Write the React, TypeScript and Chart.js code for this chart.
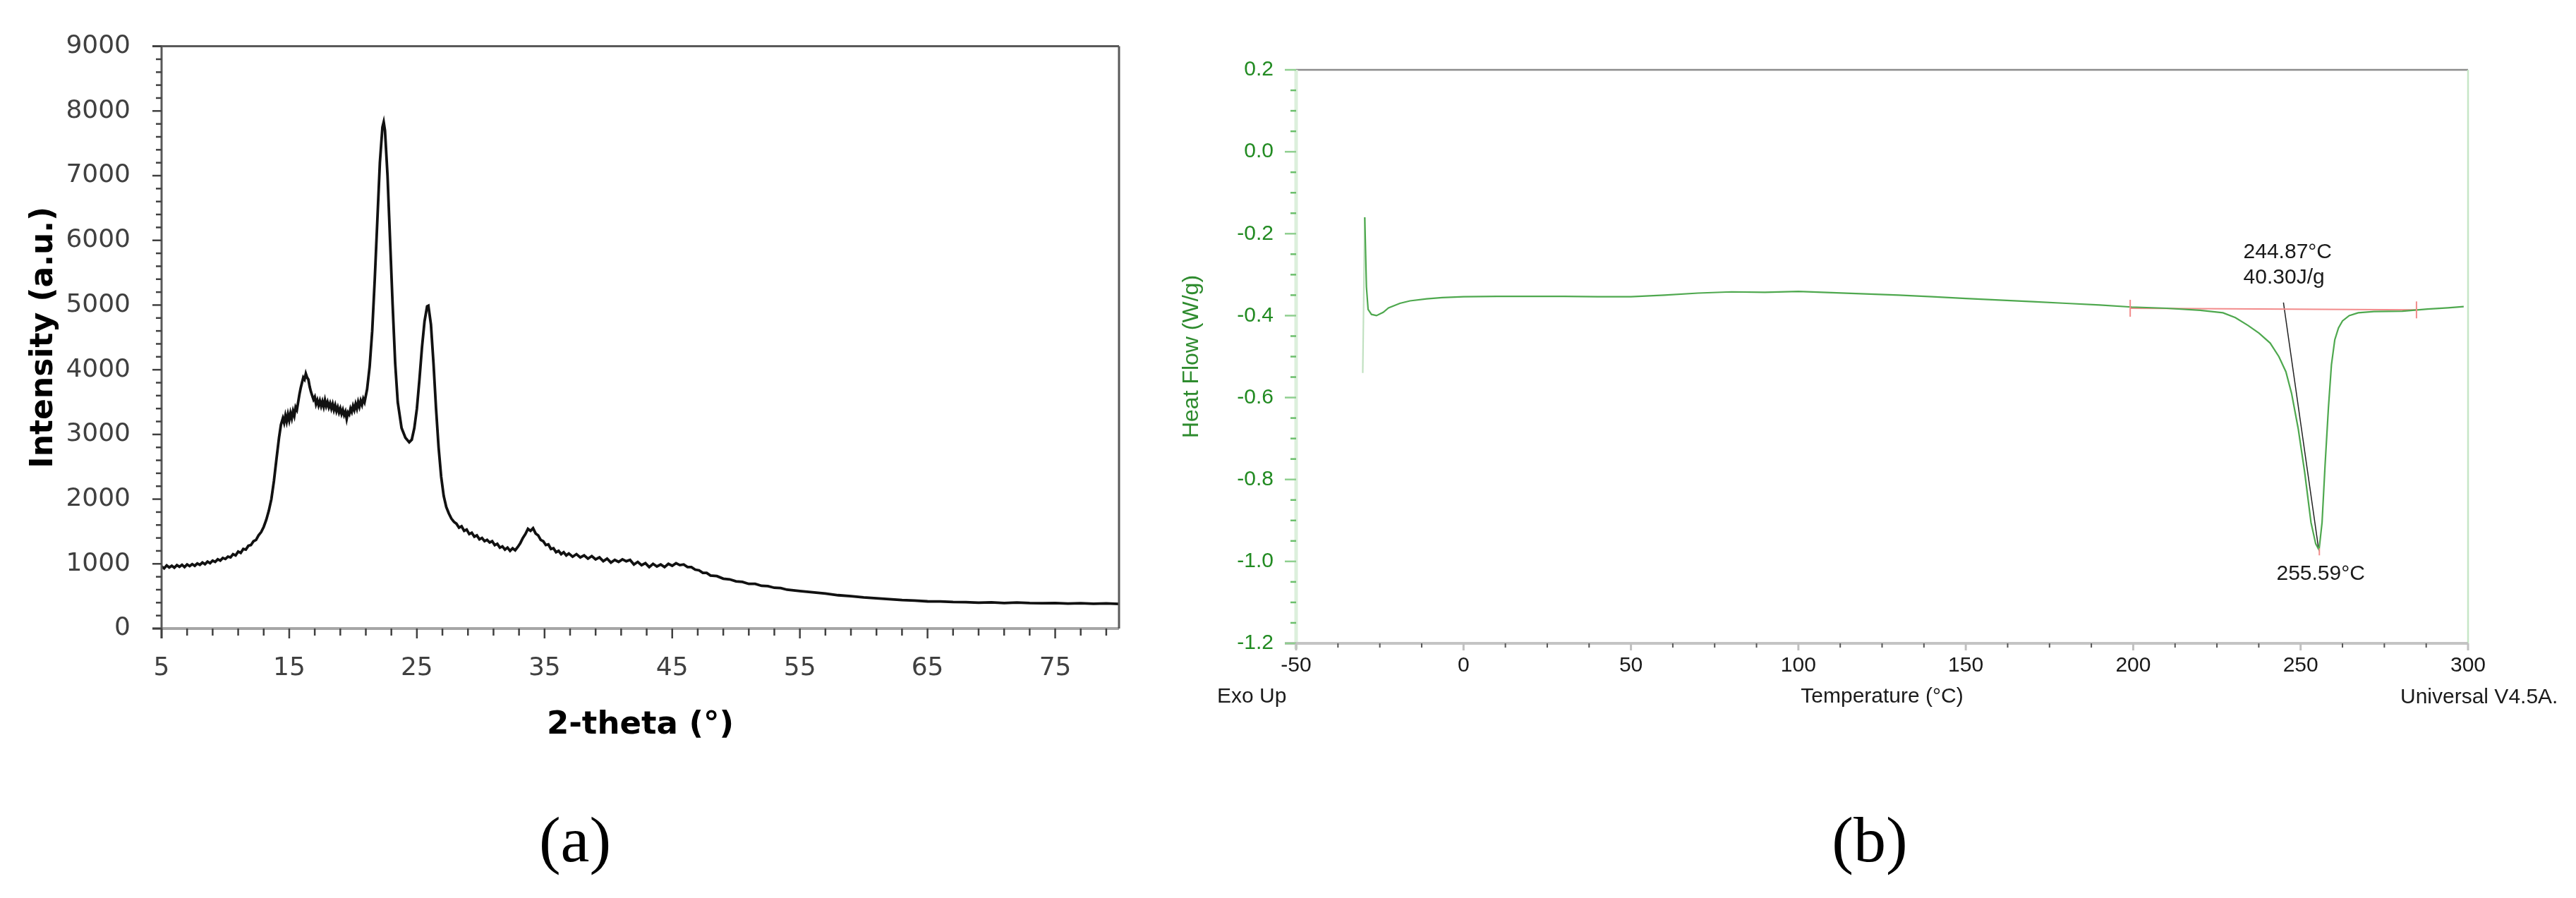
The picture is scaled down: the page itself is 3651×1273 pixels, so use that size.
import React, { useEffect, useRef } from "react";
import { Chart, registerables } from "chart.js";
Chart.register(...registerables);

const W = 3651;
const H = 1273;

// ---------- (a) XRD pattern ----------
const xrdTheta = [
  5.0, 5.2, 5.4, 5.6, 5.8, 6.0, 6.2, 6.4, 6.6, 6.8, 7.0, 7.2, 7.4, 7.6, 7.8, 8.0, 8.2, 8.4, 8.6, 8.8,
  9.0, 9.2, 9.4, 9.6, 9.8, 10.0, 10.2, 10.4, 10.6, 10.8, 11.0, 11.2, 11.4, 11.6, 11.8, 12.0, 12.2, 12.4, 12.6, 12.8,
  13.0, 13.2, 13.4, 13.6, 13.8, 14.0, 14.2, 14.35, 14.5, 14.6, 14.7, 14.8, 14.9, 15.0, 15.1, 15.2, 15.3, 15.4, 15.5, 15.6,
  15.7, 15.8, 15.9, 16.0, 16.1, 16.2, 16.3, 16.4, 16.5, 16.6, 16.7, 16.8, 16.9, 17.0, 17.1, 17.2, 17.3, 17.4, 17.5, 17.6,
  17.7, 17.8, 17.9, 18.0, 18.1, 18.2, 18.3, 18.4, 18.5, 18.6, 18.7, 18.8, 18.9, 19.0, 19.1, 19.2, 19.3, 19.4, 19.5, 19.6,
  19.7, 19.8, 19.9, 20.0, 20.1, 20.2, 20.3, 20.4, 20.5, 20.6, 20.7, 20.8, 20.9, 21.0, 21.1, 21.3, 21.5, 21.7, 21.9, 22.1,
  22.3, 22.4, 22.5, 22.7, 22.9, 23.1, 23.3, 23.5, 23.8, 24.1, 24.4, 24.6, 24.8, 25.0, 25.2, 25.4, 25.6, 25.8, 25.9, 26.1,
  26.3, 26.5, 26.7, 26.9, 27.1, 27.3, 27.5, 27.7, 27.9, 28.1, 28.3, 28.5, 28.7, 28.9, 29.1, 29.3, 29.5, 29.7, 29.9, 30.1,
  30.3, 30.5, 30.7, 30.9, 31.1, 31.3, 31.5, 31.7, 31.9, 32.1, 32.3, 32.5, 32.7, 32.9, 33.1, 33.3, 33.5, 33.7, 33.9, 34.1,
  34.3, 34.5, 34.7, 34.9, 35.1, 35.3, 35.5, 35.7, 35.9, 36.1, 36.3, 36.5, 36.7, 36.9, 37.2, 37.5, 37.8, 38.1, 38.4, 38.7,
  39.0, 39.3, 39.6, 39.9, 40.2, 40.5, 40.8, 41.1, 41.4, 41.7, 42.0, 42.3, 42.6, 42.9, 43.2, 43.5, 43.8, 44.1, 44.4, 44.7,
  45.0, 45.3, 45.6, 45.9, 46.2, 46.5, 46.8, 47.1, 47.4, 47.7, 48.0, 48.5, 49.0, 49.5, 50.0, 50.5, 51.0, 51.5, 52.0, 52.5,
  53.0, 53.5, 54.0, 55.0, 56.0, 57.0, 58.0, 59.0, 60.0, 61.0, 62.0, 63.0, 64.0, 65.0, 66.0, 67.0, 68.0, 69.0, 70.0, 71.0,
  72.0, 73.0, 74.0, 75.0, 76.0, 77.0, 78.0, 79.0, 80.0,
];
const xrdIntensity = [
  960, 930, 975, 945, 970, 940, 980, 955, 985, 950, 990, 965, 995, 970, 1005, 985, 1020, 995, 1035, 1010,
  1050, 1030, 1070, 1050, 1090, 1075, 1110, 1100, 1150, 1130, 1190, 1170, 1230, 1220, 1280, 1290, 1350, 1370, 1440, 1490,
  1570, 1680, 1820, 2000, 2280, 2620, 2950, 3150, 3250, 3180, 3290, 3200, 3310, 3220, 3330, 3250, 3360, 3290, 3420, 3380,
  3500, 3620, 3720, 3800, 3880, 3850, 3940, 3880, 3850, 3740, 3660, 3600, 3540, 3580, 3470, 3530, 3450, 3520, 3440, 3510,
  3430, 3530, 3440, 3500, 3420, 3480, 3400, 3470, 3380, 3450, 3360, 3420, 3340, 3400, 3320, 3380, 3300, 3350, 3240, 3340,
  3310, 3400, 3350, 3440, 3380, 3470, 3400, 3500, 3430, 3520, 3460, 3550, 3500, 3600, 3700, 4050, 4600, 5400, 6300, 7200,
  7750, 7830, 7700, 7000, 6000, 5000, 4100, 3500, 3100, 2950, 2880, 2920, 3100, 3400, 3850, 4350, 4750, 4980, 4990, 4700,
  4100, 3400, 2800, 2350, 2050, 1880, 1780, 1700, 1650, 1620, 1560, 1580, 1510, 1530, 1460, 1480, 1420, 1440, 1380, 1400,
  1350, 1370, 1330, 1350, 1290, 1310, 1250, 1270, 1220, 1250, 1200, 1240, 1210, 1260, 1320, 1400, 1460, 1540, 1510, 1550,
  1470, 1440, 1370, 1350, 1290, 1300, 1230, 1240, 1180, 1200, 1150, 1180, 1130, 1160, 1110, 1150, 1100, 1130, 1080, 1120,
  1070, 1100, 1040, 1080, 1020, 1060, 1030, 1070, 1040, 1060, 990, 1030, 980, 1010, 950, 1000, 960, 990, 950, 1000,
  970, 1010, 980, 990, 950, 950, 910, 900, 860, 860, 820, 810, 770, 760, 730, 720, 690, 690, 660, 655,
  630, 625, 600, 580, 560, 540, 515, 500, 480, 468, 455, 440, 432, 420, 418, 410, 408, 400, 405, 395,
  402, 394, 392, 393, 385, 392, 382, 388, 380,
];
const xrdXTicks = [5, 15, 25, 35, 45, 55, 65, 75];
const xrdYTicks = [0, 1000, 2000, 3000, 4000, 5000, 6000, 7000, 8000, 9000];
const xrdXRange = [5, 80];
const xrdYRange = [0, 9000];

// ---------- (b) DSC thermogram ----------
const dscTemp = [
  -30.1, -29.5, -29.0, -28.5, -27.5, -26.0, -24.0, -22.4, -19.0, -16.0, -11.0, -6.4, 0, 10, 20, 30, 40, 50,
  60, 70, 80, 90, 100, 110, 120, 130, 140, 150, 160, 170, 180, 190, 199.5, 210, 220, 226.8, 230.5, 234.3,
  237.6, 240.9, 243.5, 245.6, 247.3, 249.3, 251.2, 253.1, 254.5, 255.5, 256.4, 257.3, 258.3, 259.2, 260.2,
  261.3, 262.5, 264.5, 267.2, 271.9, 280.4, 287.9, 294.0, 298.7,
];
const dscHeatFlow = [
  -0.54, -0.16, -0.33, -0.385, -0.397, -0.4, -0.392, -0.381, -0.37, -0.364, -0.359, -0.356, -0.354, -0.353,
  -0.353, -0.353, -0.354, -0.354, -0.35, -0.345, -0.342, -0.343, -0.341, -0.344, -0.347, -0.35, -0.354,
  -0.358, -0.362, -0.366, -0.37, -0.374, -0.379, -0.382, -0.387, -0.393, -0.405, -0.424, -0.443, -0.467,
  -0.5, -0.537, -0.59, -0.677, -0.782, -0.905, -0.957, -0.972, -0.905, -0.765, -0.625, -0.52, -0.459,
  -0.43, -0.413, -0.4, -0.393, -0.39, -0.389, -0.384, -0.381, -0.378,
];
const dscXTicks = [-50, 0, 50, 100, 150, 200, 250, 300];
const dscYTicks = [-1.2, -1.0, -0.8, -0.6, -0.4, -0.2, 0.0, 0.2];
const dscXRange = [-50, 300];
const dscYRange = [-1.2, 0.2];
const dscBaselineTemp = [199.1, 284.6];
const dscBaselineFlow = [-0.382, -0.386];
const dscOnsetTemp = [244.87, 255.3];
const dscOnsetFlow = [-0.368, -0.965];
const dscPeakTemp = 255.59;
const dscPeakFlow = -0.968;
const dscLabelText = ["244.87°C", "40.30J/g", "255.59°C"];
const dscLabelTemp = [232.9, 232.9, 256.0];
const dscLabelFlow = [-0.245, -0.308, -1.03];
const dscLabelAlign = ["left", "left", "center"];

// ---------- helpers ----------
function seg(ctx: CanvasRenderingContext2D, x1: number, y1: number, x2: number, y2: number, color: string, w: number) {
  ctx.beginPath();
  ctx.strokeStyle = color;
  ctx.lineWidth = w;
  ctx.moveTo(x1, y1);
  ctx.lineTo(x2, y2);
  ctx.stroke();
}
function text(
  ctx: CanvasRenderingContext2D, s: string, x: number, y: number, font: string, color: string,
  align: CanvasTextAlign = "center", rot = 0
) {
  ctx.save();
  ctx.translate(x, y);
  if (rot) ctx.rotate(rot);
  ctx.font = font;
  ctx.fillStyle = color;
  ctx.textAlign = align;
  ctx.textBaseline = "middle";
  ctx.fillText(s, 0, 0);
  ctx.restore();
}

const xrdDecor = {
  id: "xrdDecor",
  afterDraw(chart: any) {
    const { ctx, chartArea: a, scales } = chart;
    const xs = scales.x;
    const ys = scales.y;
    ctx.save();
    ctx.lineCap = "butt";
    seg(ctx, a.left - 13, a.bottom, a.right, a.bottom, "#a6a6a6", 4);
    seg(ctx, a.left - 13, a.top, a.right, a.top, "#595959", 3);
    seg(ctx, a.right, a.top, a.right, a.bottom, "#595959", 3);
    seg(ctx, a.left, a.top, a.left, a.bottom + 14, "#595959", 3);
    for (let v = xrdYRange[0]; v <= xrdYRange[1]; v += 200) {
      const py = ys.getPixelForValue(v);
      const major = v % 1000 === 0;
      seg(ctx, a.left - (major ? 13 : 8), py, a.left, py, "#404040", 2.5);
    }
    for (let v = xrdXRange[0]; v <= xrdXRange[1]; v += 2) {
      const px = xs.getPixelForValue(v);
      const major = (v - 5) % 10 === 0;
      seg(ctx, px, a.bottom, px, a.bottom + (major ? 14 : 10), "#404040", 2.5);
    }
    text(ctx, "Intensity (a.u.)", 63, (a.top + a.bottom) / 2, "bold 44px 'DejaVu Sans'", "#000", "center", -Math.PI / 2);
    text(ctx, "2-theta (°)", (a.left + a.right) / 2, 1028, "bold 45px 'DejaVu Sans'", "#000");
    text(ctx, "(a)", 815, 1197, "92px 'Liberation Serif'", "#000");
    ctx.restore();
  },
};

const dscDecor = {
  id: "dscDecor",
  afterDraw(chart: any) {
    const { ctx, chartArea: a, scales } = chart;
    const xs = scales.x;
    const ys = scales.y;
    ctx.save();
    ctx.lineCap = "butt";
    seg(ctx, a.left, a.top, a.right, a.top, "#8c8c8c", 2.5);
    seg(ctx, a.right, a.top, a.right, a.bottom, "#c6e6c6", 2.5);
    seg(ctx, a.left, a.top, a.left, a.bottom + 8, "#dcefdc", 5);
    seg(ctx, a.left - 16, a.bottom, a.right, a.bottom, "#c4c4c4", 4);
    for (let i = 0; i <= 28; i++) {
      const v = dscYRange[0] + i * 0.05;
      const py = ys.getPixelForValue(v);
      const major = i % 4 === 0;
      seg(ctx, a.left - (major ? 16 : 8), py, a.left, py, major ? "#8fcf8f" : "#6cbf6c", 2.5);
    }
    for (let i = 0; i <= 28; i++) {
      const v = dscXRange[0] + i * 12.5;
      const px = xs.getPixelForValue(v);
      const major = i % 4 === 0;
      seg(ctx, px, a.bottom, px, a.bottom + (major ? 10 : 6), major ? "#c0c0c0" : "#555", major ? 3 : 2);
    }
    for (let i = 0; i < 2; i++) {
      const px = xs.getPixelForValue(dscBaselineTemp[i]);
      const py = ys.getPixelForValue(dscBaselineFlow[i]);
      seg(ctx, px, py - 12, px, py + 12, "#f28b8b", 2);
    }
    const pkx = xs.getPixelForValue(dscPeakTemp);
    const pky = ys.getPixelForValue(dscPeakFlow);
    seg(ctx, pkx, pky, pkx, pky + 10, "#f28b8b", 2);
    for (let i = 0; i < dscLabelText.length; i++) {
      text(ctx, dscLabelText[i], xs.getPixelForValue(dscLabelTemp[i]), ys.getPixelForValue(dscLabelFlow[i]),
        "30px 'Liberation Sans'", "#1a1a1a", dscLabelAlign[i] as CanvasTextAlign);
    }
    text(ctx, "Heat Flow (W/g)", 1689, (a.top + a.bottom) / 2, "32px 'Liberation Sans'", "#2e8b2e", "center", -Math.PI / 2);
    text(ctx, "Exo Up", 1725, 988, "30px 'Liberation Sans'", "#1a1a1a", "left");
    text(ctx, "Temperature (°C)", (a.left + a.right) / 2, 988, "30px 'Liberation Sans'", "#1a1a1a");
    text(ctx, "Universal V4.5A.", 3402, 989, "30px 'Liberation Sans'", "#1a1a1a", "left");
    text(ctx, "(b)", 2650, 1197, "92px 'Liberation Serif'", "#000");
    ctx.restore();
  },
};

function xrdConfig(): any {
  return {
    type: "line",
    data: {
      datasets: [
        {
          data: xrdTheta.map((t, i) => ({ x: t, y: xrdIntensity[i] })),
          borderColor: "#111",
          borderWidth: 3.8,
          pointRadius: 0,
          tension: 0,
          fill: false,
        },
      ],
    },
    options: {
      responsive: false,
      animation: false,
      events: [],
      layout: { padding: { left: 0, top: 51, right: W - 1586, bottom: 0 } },
      plugins: { legend: { display: false }, tooltip: { enabled: false } },
      scales: {
        x: {
          type: "linear",
          min: xrdXRange[0],
          max: xrdXRange[1],
          afterBuildTicks: (s: any) => { s.ticks = xrdXTicks.map((v) => ({ value: v })); },
          afterFit: (s: any) => { s.height = H - 891; },
          grid: { display: false, drawTicks: false },
          border: { display: false },
          ticks: { font: { family: "'DejaVu Sans'", size: 36 }, color: "#404040", padding: 35, maxRotation: 0, autoSkip: false },
        },
        y: {
          type: "linear",
          min: xrdYRange[0],
          max: xrdYRange[1],
          afterBuildTicks: (s: any) => { s.ticks = xrdYTicks.map((v) => ({ value: v })); },
          afterFit: (s: any) => { s.width = 229; },
          grid: { display: false, drawTicks: false },
          border: { display: false },
          ticks: { font: { family: "'DejaVu Sans'", size: 36 }, color: "#404040", padding: 44, callback: (v: any) => String(v) },
        },
      },
    },
    plugins: [xrdDecor],
  };
}

function dscConfig(): any {
  return {
    type: "line",
    data: {
      datasets: [
        {
          data: dscTemp.map((t, i) => ({ x: t, y: dscHeatFlow[i] })),
          borderColor: "#4ea84e",
          borderWidth: 2.2,
          pointRadius: 0,
          tension: 0,
          fill: false,
          segment: { borderColor: (c: any) => (c.p0DataIndex === 0 ? "rgba(78,168,78,0.35)" : undefined) },
        },
        {
          data: dscBaselineTemp.map((t, i) => ({ x: t, y: dscBaselineFlow[i] })),
          borderColor: "#f28b8b",
          borderWidth: 2,
          pointRadius: 0,
          fill: false,
        },
        {
          data: dscOnsetTemp.map((t, i) => ({ x: t, y: dscOnsetFlow[i] })),
          borderColor: "#222",
          borderWidth: 1.5,
          pointRadius: 0,
          fill: false,
        },
      ],
    },
    options: {
      responsive: false,
      animation: false,
      events: [],
      layout: { padding: { left: 0, top: 99, right: W - 3498, bottom: 0 } },
      plugins: { legend: { display: false }, tooltip: { enabled: false } },
      scales: {
        x: {
          type: "linear",
          min: dscXRange[0],
          max: dscXRange[1],
          afterBuildTicks: (s: any) => { s.ticks = dscXTicks.map((v) => ({ value: v })); },
          afterFit: (s: any) => { s.height = H - 912; },
          grid: { display: false, drawTicks: false },
          border: { display: false },
          ticks: { font: { family: "'Liberation Sans'", size: 30 }, color: "#1a1a1a", padding: 14, maxRotation: 0, autoSkip: false, callback: (v: any) => String(v) },
        },
        y: {
          type: "linear",
          min: dscYRange[0],
          max: dscYRange[1],
          afterBuildTicks: (s: any) => { s.ticks = dscYTicks.map((v) => ({ value: v })); },
          afterFit: (s: any) => { s.width = 1837; },
          grid: { display: false, drawTicks: false },
          border: { display: false },
          ticks: { font: { family: "'Liberation Sans'", size: 30 }, color: "#228b22", padding: 32, callback: (v: any) => Number(v).toFixed(1) },
        },
      },
    },
    plugins: [dscDecor],
  };
}

export default function App() {
  const leftRef = useRef<HTMLCanvasElement>(null);
  const rightRef = useRef<HTMLCanvasElement>(null);
  useEffect(() => {
    const c1 = new Chart(leftRef.current as HTMLCanvasElement, xrdConfig());
    const c2 = new Chart(rightRef.current as HTMLCanvasElement, dscConfig());
    return () => {
      c1.destroy();
      c2.destroy();
    };
  }, []);
  const cs: React.CSSProperties = { position: "absolute", left: 0, top: 0, width: W, height: H, display: "block" };
  return (
    <div style={{ position: "absolute", left: 0, top: 0, width: W, height: H, background: "#fff", overflow: "hidden" }}>
      <canvas ref={leftRef} width={W} height={H} style={cs} />
      <canvas ref={rightRef} width={W} height={H} style={cs} />
    </div>
  );
}
